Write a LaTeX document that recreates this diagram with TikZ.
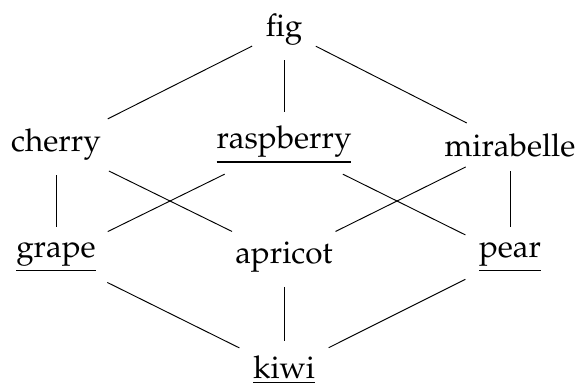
\documentclass[tikz,border=0pt]{standalone}
\usepackage[T1]{fontenc}
\usepackage{mathpazo}
\usepackage{tikz}

\begin{document}
\begin{tikzpicture}[x=0.3185pt, y=-0.3185pt,
    fruit/.style={inner sep=2pt},
    edge/.style={line width=0.3pt, shorten <=2.4pt, shorten >=2.4pt}]

        \useasboundingbox (0,0) rectangle (578,383);

        % nodes
        \node[fruit] (fig) at (284,30) {fig};
        \node[fruit] (cherry) at (56,145) {cherry};
        \node[fruit] (raspberry) at (284,145) {\underline{raspberry}};
        \node[fruit] (mirabelle) at (510,145) {mirabelle};
        \node[fruit] (grape) at (56,257) {\underline{grape}};
        \node[fruit] (apricot) at (284,257) {apricot};
        \node[fruit] (pear) at (510,257) {\underline{pear}};
        \node[fruit] (kiwi) at (284,370) {\underline{kiwi}};

        % edges
        \draw[edge] (fig) -- (cherry);
        \draw[edge] (fig) -- (raspberry);
        \draw[edge] (fig) -- (mirabelle);
        \draw[edge] (cherry) -- (grape);
        \draw[edge] (cherry) -- (apricot);
        \draw[edge] (raspberry) -- (grape);
        \draw[edge] (raspberry) -- (pear);
        \draw[edge] (mirabelle) -- (apricot);
        \draw[edge] (mirabelle) -- (pear);
        \draw[edge] (grape) -- (kiwi);
        \draw[edge] (apricot) -- (kiwi);
        \draw[edge] (pear) -- (kiwi);

\end{tikzpicture}
\end{document}
